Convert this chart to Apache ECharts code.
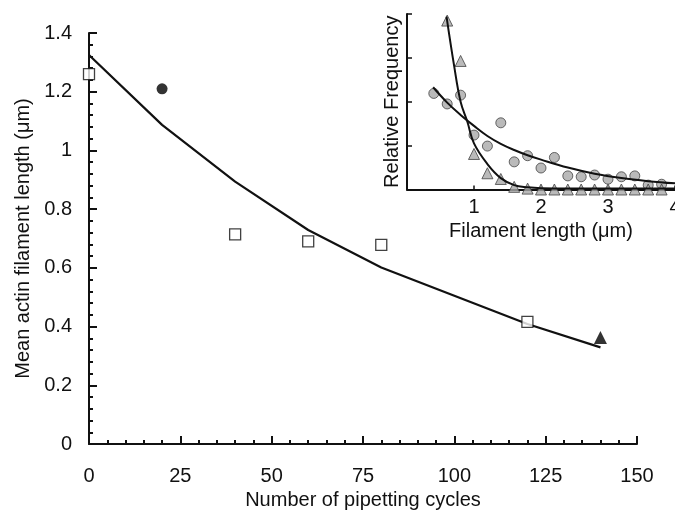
<!DOCTYPE html>
<html>
<head>
<meta charset="utf-8">
<script src="https://cdn.jsdelivr.net/npm/echarts@6/dist/echarts.min.js"></script>
<style>
  html, body { margin: 0; padding: 0; background: #fff; }
  #chart { width: 675px; height: 511px; }
</style>
</head>
<body>
<div id="chart"></div>
<script>
// main plot: mean filament length vs pipetting cycles
const squareCycles = [0, 40, 60, 80, 120];
const squareLength = [1.26, 0.714, 0.69, 0.678, 0.416];
const circleCycles = [20];
const circleLength = [1.21];
const triCycles = [140];
const triLength = [0.363];
const fitCycles = [0, 20, 40, 60, 80, 120, 140];
const fitLength = [1.325, 1.087, 0.894, 0.729, 0.601, 0.409, 0.329];

// inset: length distributions
const insetCircX = [0.4, 0.6, 0.8, 1.0, 1.2, 1.4, 1.6, 1.8, 2.0, 2.2, 2.4, 2.6, 2.8, 3.0, 3.2, 3.4, 3.6, 3.8];
const insetCircY = [2.19, 1.95, 2.15, 1.24, 0.99, 1.52, 0.63, 0.77, 0.49, 0.73, 0.31, 0.29, 0.33, 0.235, 0.29, 0.31, 0.1, 0.12];
const insetTriX = [0.6, 0.8, 1.0, 1.2, 1.4, 1.6, 1.8, 2.0, 2.2, 2.4, 2.6, 2.8, 3.0, 3.2, 3.4, 3.6, 3.8];
const insetTriY = [3.85, 2.93, 0.81, 0.37, 0.24, 0.06, 0.02, 0, 0, 0, 0, 0, 0, 0, 0, 0, 0];
const circFitX = [0.39, 0.6, 0.8, 1.0, 1.2, 1.4, 1.6, 1.8, 2.0, 2.4, 2.8, 3.2, 3.6, 4.0];
const circFitY = [2.33, 1.98, 1.70, 1.45, 1.22, 1.04, 0.90, 0.78, 0.68, 0.50, 0.36, 0.26, 0.19, 0.14];
const triFitX = [0.59, 0.7, 0.8, 0.9, 1.0, 1.2, 1.4, 1.6, 1.8, 2.0, 3.0, 4.0];
const triFitY = [3.94, 2.85, 2.0, 1.55, 1.05, 0.58, 0.26, 0.10, 0.05, 0.03, 0.02, 0.02];

const pairs = (xs, ys) => xs.map((x, i) => [x, ys[i]]);
const font = 'Liberation Sans, Arial, sans-serif';
const ink = '#111';
const fs = 20;

const chart = echarts.init(document.getElementById('chart'));
chart.setOption({
  animation: false,
  backgroundColor: '#fff',
  textStyle: { fontFamily: font },
  grid: [
    { left: 89, top: 33, width: 548, height: 411, outerBoundsMode: 'none', containLabel: false },
    { left: 407, top: 14, width: 268, height: 175.5, outerBoundsMode: 'none', containLabel: false }
  ],
  xAxis: [{
    gridIndex: 0, type: 'value', min: 0, max: 150, interval: 25,
    name: 'Number of pipetting cycles', nameLocation: 'middle', nameGap: 43,
    nameTextStyle: { fontSize: fs, color: ink, fontFamily: font },
    axisLine: { lineStyle: { color: ink, width: 2 } },
    axisTick: { inside: true, length: 8, lineStyle: { color: ink, width: 2 } },
    minorTick: { show: true, splitNumber: 5, length: 4, lineStyle: { color: ink, width: 2 } },
    axisLabel: { fontSize: fs, color: ink, margin: 22, fontFamily: font },
    splitLine: { show: false }
  }, {
    gridIndex: 1, type: 'value', min: 0, max: 4, interval: 1,
    name: 'Filament length (\u03bcm)', nameLocation: 'middle', nameGap: 32,
    nameTextStyle: { fontSize: fs, color: ink, fontFamily: font },
    axisLine: { lineStyle: { color: ink, width: 2 } },
    axisTick: { inside: true, length: 4, lineStyle: { color: ink, width: 1.5 } },
    axisLabel: { fontSize: fs, color: ink, margin: 8, showMinLabel: false, fontFamily: font },
    splitLine: { show: false }
  }],
  yAxis: [{
    gridIndex: 0, type: 'value', min: 0, max: 1.4, interval: 0.2,
    name: 'Mean actin filament length (\u03bcm)', nameLocation: 'middle', nameGap: 55,
    nameTextStyle: { fontSize: fs, color: ink, fontFamily: font },
    axisLine: { show: true, lineStyle: { color: ink, width: 2 } },
    axisTick: { show: true, inside: true, length: 8, lineStyle: { color: ink, width: 2 } },
    minorTick: { show: true, splitNumber: 5, length: 4, lineStyle: { color: ink, width: 2 } },
    axisLabel: { fontSize: fs, color: ink, margin: 17, fontFamily: font },
    splitLine: { show: false }
  }, {
    gridIndex: 1, type: 'value', min: 0, max: 4, interval: 1,
    name: 'Relative Frequency', nameLocation: 'middle', nameGap: 5,
    nameTextStyle: { fontSize: fs, color: ink, fontFamily: font },
    axisLine: { show: true, lineStyle: { color: ink, width: 2 } },
    axisTick: { show: true, inside: true, length: 5, lineStyle: { color: ink, width: 1.5 } },
    axisLabel: { show: false },
    splitLine: { show: false }
  }],
  series: [
    {
      type: 'line', xAxisIndex: 0, yAxisIndex: 0, data: pairs(fitCycles, fitLength),
      showSymbol: false, smooth: false, lineStyle: { color: ink, width: 2.2 }, z: 2
    },
    {
      type: 'scatter', xAxisIndex: 0, yAxisIndex: 0, data: pairs(squareCycles, squareLength),
      symbol: 'rect', symbolSize: 11, clip: false,
      itemStyle: { color: '#fff', borderColor: ink, borderWidth: 1.3 }, z: 3
    },
    {
      type: 'scatter', xAxisIndex: 0, yAxisIndex: 0, data: pairs(circleCycles, circleLength),
      symbol: 'circle', symbolSize: 11,
      itemStyle: { color: '#000' }, z: 3
    },
    {
      type: 'scatter', xAxisIndex: 0, yAxisIndex: 0, data: pairs(triCycles, triLength),
      symbol: 'triangle', symbolSize: 13,
      itemStyle: { color: '#000' }, z: 3
    },
    {
      type: 'scatter', xAxisIndex: 1, yAxisIndex: 1, data: pairs(insetCircX, insetCircY),
      symbol: 'circle', symbolSize: 10, clip: false,
      itemStyle: { color: '#a9a9a9', borderColor: '#444', borderWidth: 1 }, z: 3
    },
    {
      type: 'scatter', xAxisIndex: 1, yAxisIndex: 1, data: pairs(insetTriX, insetTriY),
      symbol: 'triangle', symbolSize: 11, clip: false,
      itemStyle: { color: '#a9a9a9', borderColor: '#444', borderWidth: 1 }, z: 3
    },
    {
      type: 'line', xAxisIndex: 1, yAxisIndex: 1, data: pairs(circFitX, circFitY),
      showSymbol: false, smooth: 0.4, lineStyle: { color: ink, width: 2 }, z: 4
    },
    {
      type: 'line', xAxisIndex: 1, yAxisIndex: 1, data: pairs(triFitX, triFitY),
      showSymbol: false, smooth: 0.4, lineStyle: { color: ink, width: 2 }, z: 4
    }
  ]
});
</script>
</body>
</html>
